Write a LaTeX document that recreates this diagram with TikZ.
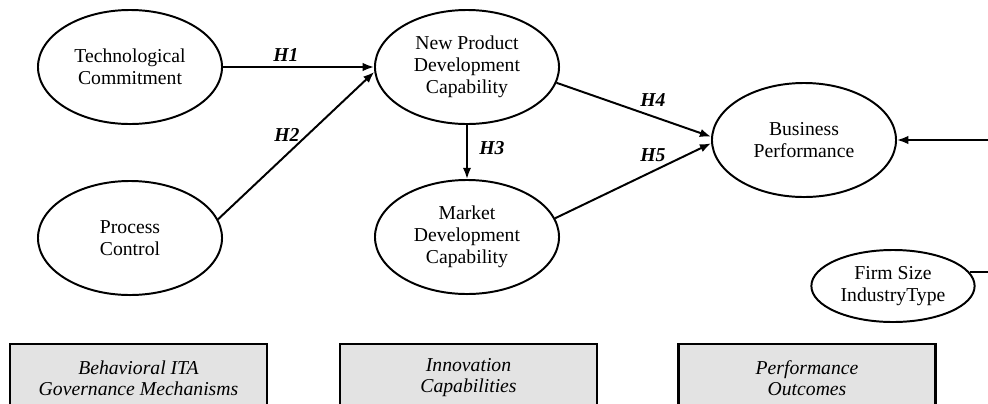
\documentclass[tikz,border=0pt]{standalone}
\usepackage{fontspec}
\setmainfont{Liberation Serif}
\usetikzlibrary{shapes.geometric,arrows.meta}

\begin{document}
\begin{tikzpicture}[x=0.025cm, y=-0.025cm, line width=1.4pt,
    construct/.style={draw, ellipse, minimum width=4.6cm, minimum height=2.85cm, inner sep=0pt,
      align=center, font=\fontsize{14}{15.8}\selectfont},
    stage/.style={draw, line width=1.8pt, fill=gray!22, minimum width=6.42cm, minimum height=1.7cm,
      inner sep=0pt, align=center, font=\fontsize{14}{15}\selectfont\itshape},
    hyp/.style={font=\fontsize{14}{15}\selectfont\bfseries\itshape},
    link/.style={-{Latex[length=8pt,width=6pt]}}]
  \useasboundingbox (0,0) rectangle (988,403);
  \clip (0,0) rectangle (988,403);

  \node[construct] (tc)  at (130,67)  {Technological\\Commitment};
  \node[construct] (pc)  at (130,238) {Process\\Control};
  \node[construct] (npd) at (467,67)  {New Product\\Development\\Capability};
  \node[construct] (mdc) at (467,237) {Market\\Development\\Capability};
  \node[construct] (bp)  at (804,140) {Business\\Performance};
  \node[construct, minimum width=4.08cm, minimum height=1.8cm] (fs) at (893,286) {Firm Size\\IndustryType};

  \coordinate (bpin) at (988,140);
  \coordinate (fsout) at (988,277);

  \draw[link] (tc) -- (npd);
  \draw[link] (pc.12) -- (npd.183);
  \draw[link] (npd) -- (mdc);
  \draw[link] (npd.-10) -- (bp.178);
  \draw[link] (mdc.12) -- (bp.182);
  \draw[link] (bpin) -- (bp.east);
  \draw (fs.10) -- (fs.10 -| fsout);

  \node[hyp] at (286,55)  {H1};
  \node[hyp] at (287,135) {H2};
  \node[hyp] at (492,148) {H3};
  \node[hyp] at (653,100) {H4};
  \node[hyp] at (653,155) {H5};

  \node[stage] (gov)  at (138.5,378) {Behavioral ITA\\Governance Mechanisms};
  \node[stage] (inno) at (468.5,378) {Innovation\\Capabilities};
  \node[stage] (perf) at (807,378)   {Performance\\Outcomes};
\end{tikzpicture}
\end{document}
